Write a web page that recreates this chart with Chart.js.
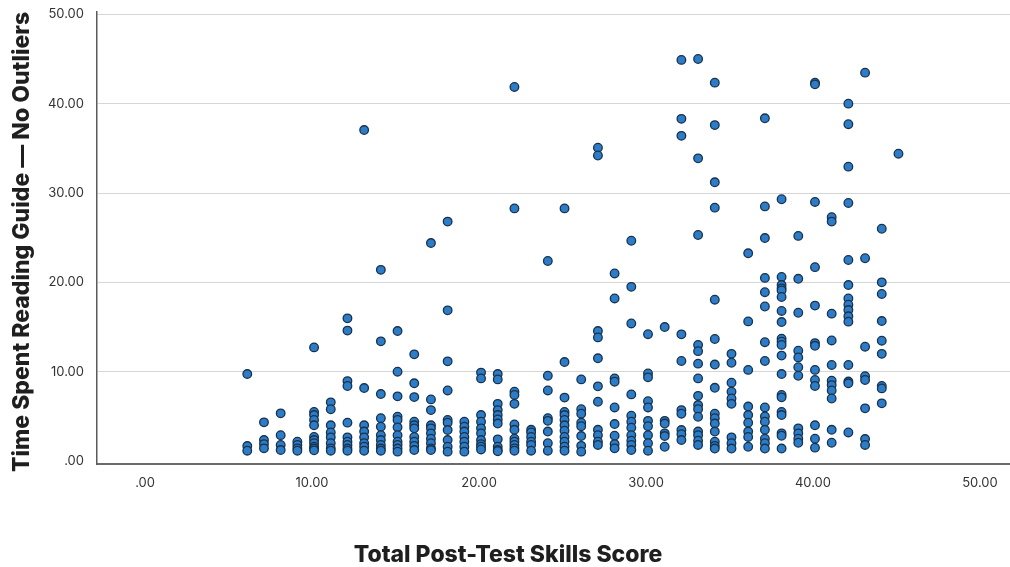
<!DOCTYPE html>
<html>
<head>
<meta charset="utf-8">
<title>Time Spent Reading Guide</title>
<script src="https://cdn.jsdelivr.net/npm/chart.js@4"></script>
<style>
  html, body { margin: 0; background: #fff; }
  canvas { display: block; }
</style>
</head>
<body>
<canvas id="scatterChart" width="1010" height="567"></canvas>
<script>
const xTitle = 'Total Post-Test Skills Score';
const yTitle = 'Time Spent Reading Guide \u2014 No Outliers';
const xTicks = [0, 10, 20, 30, 40, 50];
const yTicks = [0, 10, 20, 30, 40, 50];

// post-test score, one entry per column of dots
const scores = [6, 7, 8, 9, 10, 11, 12, 13, 14, 15, 16, 17, 18, 19, 20, 21, 22, 23, 24, 25,
  26, 27, 28, 29, 30, 31, 32, 33, 34, 35, 36, 37, 38, 39, 40, 41, 42, 43, 44, 45];

// minutes, same order as scores
const timeSpent = [
  [9.74, 1.68, 1.16],
  [4.33, 2.35, 1.9, 1.42],
  [5.34, 2.9, 1.8, 1.23],
  [2.16, 1.8, 1.42, 1.16],
  [12.72, 5.5, 5.15, 4.6, 4.0, 2.7, 2.35, 2.0, 1.6, 1.4, 1.2],
  [6.57, 5.8, 4.0, 3.2, 2.65, 2.0, 1.42, 1.16],
  [15.97, 14.6, 8.95, 8.4, 4.3, 2.65, 2.16, 1.8, 1.4, 1.16],
  [37.05, 8.17, 4.0, 3.3, 2.65, 2.0, 1.6, 1.16],
  [21.4, 13.4, 7.5, 4.8, 3.85, 2.9, 2.35, 1.8, 1.4, 1.16],
  [14.55, 10.0, 7.24, 4.96, 4.6, 3.77, 2.9, 2.16, 1.8, 1.4, 1.05],
  [11.94, 8.7, 7.16, 4.4, 4.0, 3.66, 2.7, 2.16, 1.7, 1.23],
  [24.4, 6.9, 5.7, 4.0, 3.66, 3.1, 2.5, 2.0, 1.42, 1.23],
  [26.8, 16.87, 11.16, 7.9, 4.6, 4.3, 3.47, 2.35, 1.6, 1.05],
  [4.4, 3.85, 3.3, 2.7, 2.16, 1.6, 1.05],
  [9.9, 9.25, 5.15, 4.4, 3.66, 3.1, 2.35, 1.9, 1.6, 1.3],
  [9.74, 9.14, 6.4, 5.7, 5.15, 4.66, 4.2, 2.43, 1.6, 1.23, 1.1],
  [41.87, 28.28, 7.76, 7.4, 6.4, 4.1, 3.5, 2.5, 2.16, 1.8, 1.42, 1.16],
  [3.5, 3.2, 2.7, 2.16, 1.8, 1.16],
  [22.39, 9.55, 7.9, 4.8, 4.5, 3.3, 2.0, 1.16],
  [28.28, 11.08, 7.1, 5.5, 5.15, 4.6, 4.0, 3.4, 2.7, 2.16, 1.6, 1.16],
  [9.14, 5.8, 5.3, 4.3, 3.9, 2.8, 1.7, 1.05],
  [35.07, 34.2, 14.55, 13.84, 11.5, 8.36, 6.64, 3.5, 2.9, 2.16, 1.8],
  [21.0, 18.2, 9.25, 8.88, 6.0, 4.14, 2.83, 1.9, 1.42],
  [24.66, 19.5, 15.4, 7.46, 5.07, 4.4, 3.73, 2.9, 2.28, 1.8, 1.23],
  [14.2, 9.8, 9.37, 6.7, 6.0, 4.5, 3.9, 2.9, 2.0, 1.16],
  [15.0, 4.5, 4.2, 3.1, 2.8, 1.6],
  [44.9, 38.3, 36.4, 14.18, 11.2, 5.7, 5.3, 3.47, 3.0, 2.35],
  [45.0, 33.88, 25.3, 13.0, 12.3, 10.9, 9.25, 7.3, 6.27, 5.8, 4.96, 3.3, 2.9, 2.28, 1.8],
  [42.35, 37.6, 31.2, 28.36, 18.06, 13.66, 10.8, 8.2, 5.3, 4.8, 4.2, 3.3, 2.16, 1.7, 1.4],
  [12.0, 11.0, 8.77, 7.76, 7.0, 6.4, 2.65, 2.0, 1.4],
  [23.25, 15.63, 10.2, 6.1, 5.15, 4.3, 3.3, 2.7, 1.6],
  [38.36, 28.5, 24.96, 20.5, 18.9, 17.3, 13.3, 11.2, 6.0, 5.0, 4.4, 3.5, 2.5, 2.0, 1.4],
  [29.3, 20.6, 19.7, 19.33, 19.1, 18.36, 16.8, 15.56, 13.7, 13.36, 13.0, 11.8, 9.74, 7.4, 7.13, 5.5, 5.15, 3.1, 2.83, 1.4],
  [25.2, 20.4, 16.6, 12.35, 11.6, 10.5, 9.55, 3.66, 3.1, 2.5, 2.05],
  [42.35, 42.16, 29.0, 21.7, 17.4, 13.2, 12.9, 10.2, 9.07, 8.4, 4.0, 2.5, 1.5],
  [27.3, 26.8, 16.5, 13.5, 10.75, 9.0, 8.5, 7.9, 7.0, 3.5, 2.05],
  [40.0, 37.7, 32.95, 28.88, 22.5, 19.7, 18.2, 17.5, 16.9, 16.2, 15.6, 10.75, 8.9, 8.7, 3.2],
  [43.47, 22.7, 12.8, 9.5, 9.07, 5.9, 2.46, 1.8],
  [26.0, 20.0, 18.7, 15.67, 13.47, 12.0, 8.4, 8.13, 6.46],
  [34.4]
];

const points = [];
scores.forEach((score, i) => {
  timeSpent[i].forEach(t => points.push({ x: score, y: t }));
});

const fmt = v => (v === 0 ? '.00' : v.toFixed(2));
const tickFont = { family: 'Inter', size: 13 };

// the two axis titles sit off-centre from the plot area, so draw them here
const axisTitles = {
  id: 'axisTitles',
  afterDraw(chart) {
    const ctx = chart.ctx;
    ctx.save();
    ctx.fillStyle = '#1f1f1f';
    ctx.font = '800 23px Inter';
    ctx.textAlign = 'center';
    ctx.textBaseline = 'middle';
    ctx.fillText(xTitle, 508, 555);
    ctx.translate(22, 242);
    ctx.rotate(-Math.PI / 2);
    ctx.fillText(yTitle, 0, 0);
    ctx.restore();
  }
};

new Chart(document.getElementById('scatterChart'), {
  type: 'scatter',
  data: {
    datasets: [{
      data: points,
      backgroundColor: '#2c7cc8',
      borderColor: '#17324d',
      borderWidth: 1.3,
      pointRadius: 4.3
    }]
  },
  options: {
    responsive: false,
    animation: false,
    layout: { autoPadding: false, padding: { top: 12, right: 0, bottom: 0, left: 0 } },
    plugins: { legend: { display: false }, tooltip: { enabled: false } },
    scales: {
      x: {
        type: 'linear',
        min: -3,
        max: 51.68,
        afterBuildTicks: s => { s.ticks = xTicks.map(v => ({ value: v })); },
        afterFit: s => { s.height = 103; s.paddingLeft = 0; s.paddingRight = 0; },
        grid: { display: false, drawTicks: false },
        border: { color: '#6b6b6b', width: 2 },
        ticks: { callback: fmt, font: tickFont, color: '#333', padding: 11, labelOffset: -2, maxRotation: 0 }
      },
      y: {
        type: 'linear',
        min: -0.33,
        max: 50.26,
        afterBuildTicks: s => { s.ticks = yTicks.map(v => ({ value: v })); },
        afterFit: s => { s.width = 97; s.paddingTop = 0; s.paddingBottom = 0; },
        grid: {
          drawTicks: false,
          color: c => (c.tick && c.tick.value === 0 ? 'rgba(0,0,0,0)' : '#d6d6d6'),
          lineWidth: 1
        },
        border: { color: '#5a5a5a', width: 1.5 },
        ticks: { callback: fmt, font: tickFont, color: '#333', padding: 13 }
      }
    }
  },
  plugins: [axisTitles]
});
</script>
</body>
</html>
